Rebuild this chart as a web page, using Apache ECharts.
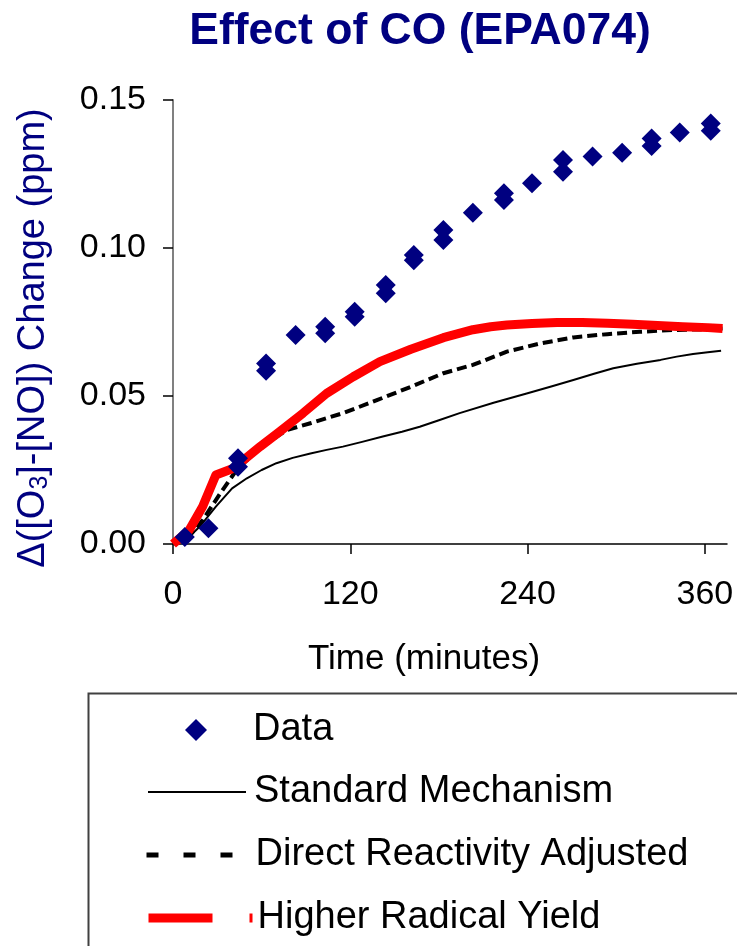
<!DOCTYPE html>
<html><head><meta charset="utf-8">
<script src="https://cdn.jsdelivr.net/npm/echarts@6/dist/echarts.min.js"></script>
<style>html,body{margin:0;padding:0;background:#fff}#c{width:737px;height:946px}</style>
</head><body><div id="c"></div>
<script>
// ---- tick labels ----
const xTicks = [0, 120, 240, 360];
const yTicks = [0, 0.05, 0.10, 0.15];

// ---- measured data (diamonds) ----
const dataTime  = [8, 24, 44, 44, 63, 63, 83, 103, 103, 123, 123, 144, 144, 163, 163, 183, 183, 203, 224, 224, 243, 264, 264, 284, 304, 324, 324, 343, 364, 364];
const dataValue = [0.0024, 0.0053, 0.0290, 0.0261, 0.0610, 0.0585, 0.0706, 0.0734, 0.0712, 0.0785, 0.0768, 0.0875, 0.0847, 0.0976, 0.0959, 0.1061, 0.1027, 0.1119, 0.1185, 0.1162, 0.1219, 0.1297, 0.1258, 0.1309, 0.1322, 0.1370, 0.1345, 0.1390, 0.1421, 0.1396];

// ---- Standard Mechanism ----
const stdTime  = [0, 9, 18, 29, 40, 50, 60, 70, 81, 93, 104, 115, 128, 142, 155, 167, 180, 194, 217, 240, 256, 271, 285, 298, 314, 330, 341, 352, 362, 371];
const stdValue = [0, 0.0015, 0.0058, 0.0126, 0.0188, 0.0222, 0.0250, 0.0273, 0.0291, 0.0306, 0.0318, 0.0329, 0.0345, 0.0363, 0.0379, 0.0396, 0.0418, 0.0442, 0.0477, 0.0509, 0.0532, 0.0554, 0.0575, 0.0594, 0.0609, 0.0622, 0.0633, 0.0642, 0.0648, 0.0653];

// ---- Direct Reactivity Adjusted ----
const dirTime  = [0, 10, 20, 32, 43, 59, 77, 93, 115, 138, 161, 183, 203, 226, 249, 271, 294, 316, 339, 357, 372];
const dirValue = [0, 0.0020, 0.0080, 0.0171, 0.0250, 0.0325, 0.0385, 0.0408, 0.0442, 0.0486, 0.0531, 0.0577, 0.0605, 0.0650, 0.0678, 0.0698, 0.0709, 0.0717, 0.0723, 0.0725, 0.0728];

// ---- Higher Radical Yield ----
const hryTime  = [0, 11, 20, 29, 41, 59, 72, 88, 104, 122, 140, 161, 183, 203, 215, 226, 243, 260, 277, 294, 311, 328, 345, 362, 372];
const hryValue = [0, 0.0047, 0.0126, 0.0233, 0.0256, 0.0329, 0.0379, 0.0442, 0.0509, 0.0565, 0.0616, 0.0658, 0.0697, 0.0724, 0.0734, 0.0740, 0.0745, 0.0748, 0.0748, 0.0746, 0.0742, 0.0738, 0.0734, 0.0731, 0.0728];

const zip = (a, b) => a.map((v, i) => [v, b[i]]);
const FONT = '"Liberation Sans", Arial, Helvetica, sans-serif';
const NAVY = '#000080';

const chart = echarts.init(document.getElementById('c'), null, {renderer: 'canvas'});

const legendBase = {
  orient: 'vertical', left: 144, padding: 0, itemWidth: 104, itemGap: 0,
  selectedMode: false,
  textStyle: {fontSize: 38, color: '#000', fontFamily: FONT}
};

chart.setOption({
  animation: false,
  backgroundColor: '#fff',
  textStyle: {fontFamily: FONT},
  title: {
    text: 'Effect of CO (EPA074)',
    left: 420, top: 9, padding: 0, textAlign: 'center',
    textStyle: {fontSize: 44.5, fontWeight: 'bold', color: NAVY, fontFamily: FONT}
  },
  grid: {left: 173, top: 100, width: 554, height: 444, containLabel: false},
  xAxis: {
    type: 'value', min: 0, max: 375, interval: 120,
    name: 'Time (minutes)', nameLocation: 'middle', nameGap: 98,
    nameTextStyle: {fontSize: 35, color: '#000', fontFamily: FONT, padding: [0, 52, 0, 0]},
    axisLine: {show: true, onZero: false, lineStyle: {color: '#000', width: 1.5}},
    axisTick: {show: true, length: 10, inside: false, customValues: xTicks, lineStyle: {color: '#000', width: 1.5}},
    axisLabel: {fontSize: 34, color: '#000', margin: 34, customValues: xTicks, fontFamily: FONT},
    splitLine: {show: false}
  },
  yAxis: {
    type: 'value', min: 0, max: 0.15, interval: 0.05,
    name: 'Δ([O{sub|3}]-[NO]) Change (ppm)', nameLocation: 'middle', nameGap: 120,
    nameTextStyle: {
      fontSize: 38, color: NAVY, fontFamily: FONT, padding: [0, 32, 0, 0],
      rich: {sub: {fontSize: 25, color: NAVY, fontFamily: FONT, verticalAlign: 'bottom', padding: [10, 0, 0, 0]}}
    },
    axisLine: {show: true, lineStyle: {color: '#808080', width: 2}},
    axisTick: {show: true, length: 10, inside: false, customValues: yTicks, lineStyle: {color: '#000', width: 1.5}},
    axisLabel: {fontSize: 34, color: '#000', margin: 27, customValues: yTicks, fontFamily: FONT,
      formatter: v => v.toFixed(2)},
    splitLine: {show: false}
  },
  legend: [
    Object.assign({}, legendBase, {left: 185, top: 711, itemWidth: 22, itemHeight: 22,
      itemStyle: {opacity: 1},
      textStyle: {fontSize: 38, color: '#000', fontFamily: FONT, padding: [0, 0, 0, 41]},
      data: [{name: 'Data', icon: 'diamond'}]}),
    Object.assign({}, legendBase, {top: 773, itemHeight: 14, data: ['Standard Mechanism'],
      itemStyle: {opacity: 0},
      lineStyle: {width: 2, type: [98, 200], dashOffset: 295}}),
    Object.assign({}, legendBase, {top: 836, itemHeight: 14, data: ['Direct Reactivity Adjusted'],
      itemStyle: {opacity: 0},
      lineStyle: {width: 5, type: [12, 25], dashOffset: 0}}),
    Object.assign({}, legendBase, {top: 899, itemHeight: 14, data: ['Higher Radical Yield'],
      itemStyle: {opacity: 0},
      lineStyle: {width: 9, type: [64, 37, 3, 100], dashOffset: 0}})
  ],
  graphic: [{
    type: 'rect', silent: true,
    shape: {x: 88.5, y: 693.5, width: 700, height: 300},
    style: {fill: 'none', stroke: '#404040', lineWidth: 2}
  }],
  series: [
    {name: 'Standard Mechanism', type: 'line', data: zip(stdTime, stdValue), symbol: 'none',
      lineStyle: {color: '#000', width: 2, join: 'round'}, itemStyle: {color: '#000'}, z: 2},
    {name: 'Direct Reactivity Adjusted', type: 'line', data: zip(dirTime, dirValue), symbol: 'none',
      lineStyle: {color: '#000', width: 4, type: [10, 5], join: 'round'}, itemStyle: {color: '#000'}, z: 3},
    {name: 'Higher Radical Yield', type: 'line', data: zip(hryTime, hryValue), symbol: 'none',
      lineStyle: {color: '#ff0000', width: 9, join: 'round'}, itemStyle: {color: '#ff0000'}, z: 4},
    {name: 'Data', type: 'scatter', data: zip(dataTime, dataValue), symbol: 'diamond', symbolSize: 20,
      itemStyle: {color: NAVY, opacity: 1}, z: 5}
  ]
});
</script>
</body></html>
